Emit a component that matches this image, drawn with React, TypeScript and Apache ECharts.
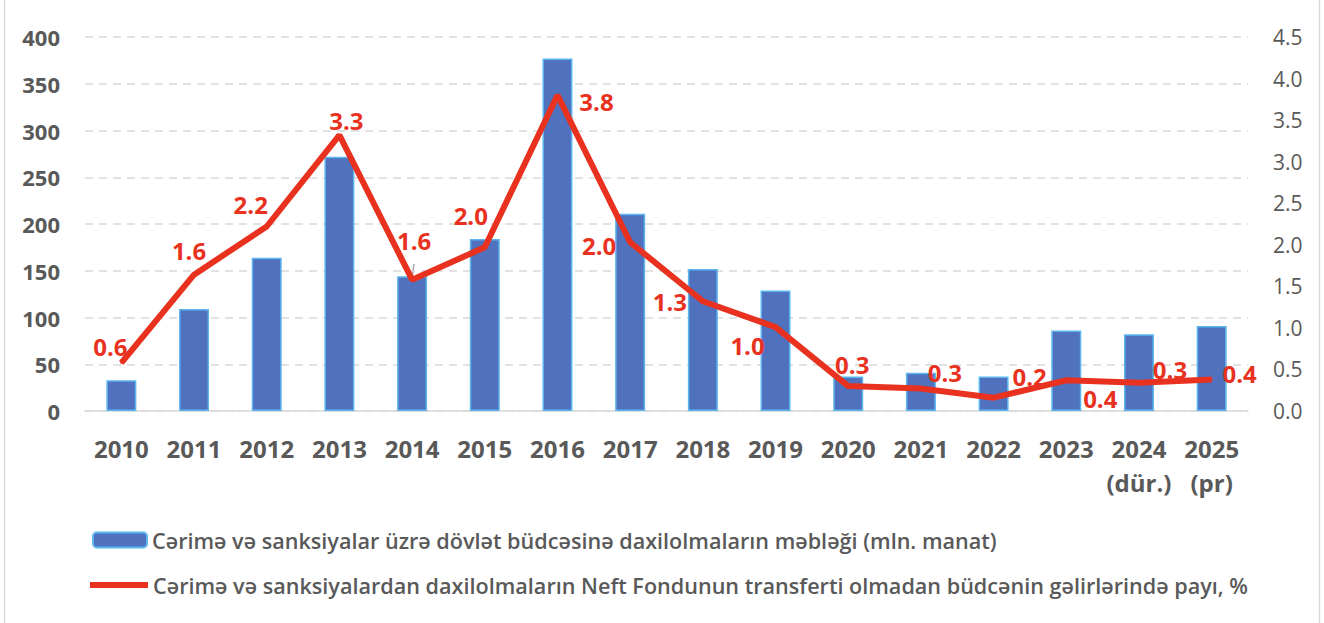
import React, { useEffect, useRef } from "react";
import * as echarts from "echarts";

const years = ["2010", "2011", "2012", "2013", "2014", "2015", "2016", "2017", "2018", "2019", "2020", "2021", "2022", "2023", "2024\n(dür.)", "2025\n(pr)"];
const fines = [33, 109, 164, 272, 144, 184, 377, 211, 152, 129, 37, 41, 37, 86, 82, 91];
const shares = [0.58, 1.64, 2.22, 3.32, 1.58, 1.97, 3.8, 2.03, 1.32, 1.01, 0.3, 0.27, 0.16, 0.37, 0.34, 0.38];
const leftTicks = { min: 0, max: 400, interval: 50 };
const rightTicks = { min: 0, max: 4.5, interval: 0.5 };

const barName = "Cərimə və sanksiyalar üzrə dövlət büdcəsinə daxilolmaların məbləği (mln. manat)";
const lineName = "Cərimə və sanksiyalardan daxilolmaların Neft Fondunun transferti olmadan büdcənin gəlirlərində payı, %";

// label offsets (styling)
const labelOffsets: [number, number][] = [
  [-11, -16], [-5, -24], [-16, -22], [7, -15], [2, -39], [-14, -32], [39, 6], [-31, 3],
  [-33, 0], [-28, 18], [4, -22], [24, -16], [36, -21], [34, 18], [31, -13], [28, -6],
];

const FONT = "'Open Sans', 'Noto Sans', sans-serif";
const GREY = "#595959";
const RED = "#E8321F";

export default function App() {
  const ref = useRef<HTMLDivElement>(null);
  useEffect(() => {
    if (!ref.current) return;
    const chart = echarts.init(ref.current, null, { renderer: "svg" });
    chart.setOption({
      animation: false,
      textStyle: { fontFamily: FONT },
      grid: { left: 85, right: 76, top: 37, bottom: 212 },
      legend: [
        {
          data: [barName],
          orient: "vertical",
          left: 87,
          top: 524,
          itemWidth: 54,
          itemHeight: 15,
          itemGap: 10,
          textStyle: { color: GREY, fontSize: 21.6, fontWeight: 600, fontFamily: FONT },
        },
        {
          data: [{ name: lineName, icon: "rect" }],
          orient: "vertical",
          left: 85,
          top: 569,
          itemWidth: 58,
          itemHeight: 6,
          textStyle: { color: GREY, fontSize: 21.6, fontWeight: 600, fontFamily: FONT },
        },
      ],
      xAxis: {
        type: "category",
        data: years,
        axisLine: { lineStyle: { color: "#d9d9d9", width: 1.5 } },
        axisTick: { show: false },
        axisLabel: { interval: 0, color: GREY, fontSize: 24, fontWeight: "bold", margin: 20, lineHeight: 34, fontFamily: FONT },
      },
      yAxis: [
        {
          type: "value",
          ...leftTicks,
          axisLine: { show: false },
          axisTick: { show: false },
          axisLabel: { color: GREY, fontSize: 22, fontWeight: "bold", margin: 25, fontFamily: FONT },
          splitLine: { lineStyle: { color: "#d9d9d9", width: 1.5, type: [8, 6] } },
        },
        {
          type: "value",
          ...rightTicks,
          axisLine: { show: false },
          axisTick: { show: false },
          axisLabel: { color: GREY, fontSize: 21, margin: 25, fontFamily: FONT, formatter: (v: number) => v.toFixed(1) },
          splitLine: { show: false },
        },
      ],
      series: [
        {
          name: barName,
          type: "bar",
          data: fines,
          barWidth: 30,
          itemStyle: { color: "#4F71BE", borderColor: "#5BB5EE", borderWidth: 1.5 },
        },
        {
          name: lineName,
          type: "line",
          yAxisIndex: 1,
          symbol: "circle",
          symbolSize: 2,
          lineStyle: { color: RED, width: 6 },
          itemStyle: { color: RED },
          z: 5,
          data: shares.map((v, i) => ({
            value: v,
            label: {
              show: true,
              position: "inside",
              offset: labelOffsets[i],
              formatter: v.toFixed(1),
              color: RED,
              fontSize: 24,
              fontWeight: "bold",
              fontFamily: FONT,
            },
          })),
        },
      ],
      graphic: [
        { type: "line", shape: { x1: 4.5, y1: 0, x2: 4.5, y2: 623 }, style: { stroke: "#d9d9d9", lineWidth: 1.5 } },
        { type: "line", shape: { x1: 1319.5, y1: 0, x2: 1319.5, y2: 623 }, style: { stroke: "#d9d9d9", lineWidth: 1.5 } },
        { type: "line", shape: { x1: 412, y1: 278, x2: 414, y2: 264 }, style: { stroke: "#a6a6a6", lineWidth: 1.5 } },
        { type: "line", shape: { x1: 558, y1: 95, x2: 558, y2: 99, }, style: { stroke: "#a6a6a6", lineWidth: 1.5 } },
        { type: "line", shape: { x1: 558, y1: 99, x2: 570, y2: 99 }, style: { stroke: "#a6a6a6", lineWidth: 1.5 } },
      ],
    });
    return () => chart.dispose();
  }, []);
  return <div ref={ref} style={{ position: "fixed", left: 0, top: 0, width: 1324, height: 623, background: "#fff" }} />;
}
